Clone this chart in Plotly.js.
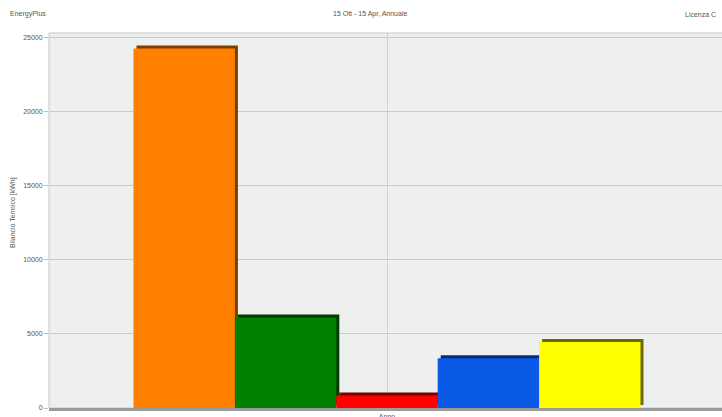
<!DOCTYPE html>
<html>
<head>
<meta charset="utf-8">
<script src="https://cdn.plot.ly/plotly-3.0.1.min.js"></script>
<style>
html,body{margin:0;padding:0;overflow:hidden;background:#fff;}
#chart{width:726px;height:417px;}
</style>
</head>
<body>
<div id="chart"></div>
<script>
// ---- data ----
const categories = ["Anno"];
const seriesNames = ["Serie 1", "Serie 2", "Serie 3", "Serie 4", "Serie 5"];
const seriesValues = [24250, 6100, 850, 3350, 4450];
const faceColors = ["#FF8000", "#007F00", "#FF0000", "#0A5AE6", "#FFFF00"];
const sideColors = ["#7A3E00", "#013A01", "#7A0000", "#062E78", "#6E6A00"];
const yTickVals = [0, 5000, 10000, 15000, 20000, 25000];
const yTickText = ["0", "5000", "10000", "15000", "20000", "25000"];

// ---- geometry helpers (pixel depth of pseudo-3D) ----
const plotW = 676, plotH = 375, yMax = 25300, depthPx = 3;
const dx = depthPx / plotW;            // category units per px
const dy = depthPx * yMax / plotH;     // value units per px

const traces = [];
// shadow (depth) traces on base axes, drawn underneath
seriesValues.forEach((v, i) => {
  traces.push({
    type: "bar", x: categories, y: [v], name: seriesNames[i],
    xaxis: "x", yaxis: "y", showlegend: false, hoverinfo: "skip",
    marker: {color: sideColors[i], line: {width: 0}}
  });
});
// front faces on overlay axes
seriesValues.forEach((v, i) => {
  traces.push({
    type: "bar", x: categories, y: [v], name: seriesNames[i],
    xaxis: "x2", yaxis: "y2", showlegend: false,
    marker: {color: faceColors[i], line: {width: 0}}
  });
});

const tickFont = {family: "Liberation Sans, Arial, sans-serif", size: 7, color: "#555"};

const layout = {
  width: 726, height: 417,
  margin: {l: 49, r: 1, t: 33, b: 9},
  paper_bgcolor: "#ffffff",
  plot_bgcolor: "#EEF0F0",
  showlegend: false,
  barmode: "group",
  bargap: 0.25,
  bargroupgap: 0,
  xaxis: {visible: false, type: "category", range: [-0.5 - dx, 0.5 - dx], fixedrange: true},
  yaxis: {visible: false, range: [-dy, yMax - dy], fixedrange: true},
  xaxis2: {
    overlaying: "x", anchor: "y2", type: "category", range: [-0.5, 0.5],
    showgrid: true, gridcolor: "#cfd2d2", gridwidth: 1,
    showline: true, linecolor: "#9c9c9c", linewidth: 3,
    ticks: "", tickfont: tickFont, zeroline: false
  },
  yaxis2: {
    overlaying: "y", anchor: "x2", side: "left", range: [0, yMax],
    tickvals: yTickVals, ticktext: yTickText,
    showgrid: true, gridcolor: "#c9cbcb", gridwidth: 1.2,
    ticks: "outside", ticklen: 4, tickcolor: "#c0c0c0",
    tickfont: tickFont, zeroline: false, showline: false
  },
  shapes: [{
    type: "rect", xref: "paper", yref: "paper", x0: 0, x1: 1, y0: 0, y1: 1,
    line: {color: "#c6c8c8", width: 1}, fillcolor: "rgba(0,0,0,0)", layer: "below"
  }],
  annotations: [
    {text: "EnergyPlus", xref: "paper", yref: "paper", x: -41/676, y: 1 + 19/375,
     xanchor: "left", yanchor: "middle", showarrow: false, font: tickFont},
    {text: "15 Ott - 15 Apr, Annuale", xref: "paper", yref: "paper", x: (370-49)/676, y: 1 + 19/375,
     xanchor: "center", yanchor: "middle", showarrow: false, font: tickFont},
    {text: "Licenza C", xref: "paper", yref: "paper", x: (683-49)/676, y: 1 + 19/375,
     xanchor: "left", yanchor: "middle", showarrow: false, font: tickFont},
    {text: "Bilancio Termico [kWh]", xref: "paper", yref: "paper", x: (13-49)/676, y: (408-213)/375,
     xanchor: "center", yanchor: "middle", textangle: -90, showarrow: false, font: tickFont}
  ]
};

Plotly.newPlot("chart", traces, layout, {displayModeBar: false, staticPlot: true});
</script>
</body>
</html>
